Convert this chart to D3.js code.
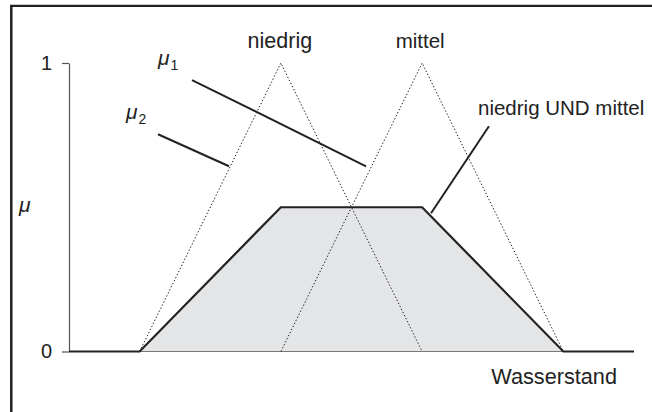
<!DOCTYPE html>
<html>
<head>
<meta charset="utf-8">
<script src="https://cdn.jsdelivr.net/npm/d3@7"></script>
<style>
  body { margin: 0; background: #fff; }
  svg { display: block; }
  text { font-family: "Liberation Sans", Arial, Helvetica, sans-serif; fill: #222; }
</style>
</head>
<body>
<div id="chart"></div>
<script>
// membership functions (x = Wasserstand, y = mu)
var xDomain = [0.5, 4.5];
var yTicks = [0, 1];
var niedrig = [[1, 0], [2, 1], [3, 0]];
var mittel = [[2, 0], [3, 1], [4, 0]];
var niedrigUndMittel = [[0.5, 0], [1, 0], [2, 0.5], [3, 0.5], [4, 0], [4.5, 0]];

// pointer lines for the labels (data units)
var pointerMu1 = [[1.371, 0.941], [2.603, 0.642]];
var pointerMu2 = [[1.130, 0.753], [1.633, 0.642]];
var pointerUnd = [[3.473, 0.781], [3.063, 0.479]];

var width = 652, height = 412;
var dark = "#222";

var svg = d3.select("#chart").append("svg")
    .attr("width", width)
    .attr("height", height);

// frame (cut off at right and bottom)
svg.append("line").attr("x1", 10).attr("x2", width).attr("y1", 5.8).attr("y2", 5.8)
    .attr("stroke", dark).attr("stroke-width", 2.2);
svg.append("line").attr("x1", 11.3).attr("x2", 11.3).attr("y1", 5).attr("y2", height)
    .attr("stroke", dark).attr("stroke-width", 2.5);

var x = d3.scaleLinear().domain(xDomain).range([69, 634]);
var y = d3.scaleLinear().domain([0, 1]).range([351.5, 63]);

var line = d3.line().x(function(d){ return x(d[0]); }).y(function(d){ return y(d[1]); });

// filled area of the AND
svg.append("path")
    .datum(niedrigUndMittel)
    .attr("d", d3.area().x(function(d){ return x(d[0]); }).y0(y(0)).y1(function(d){ return y(d[1]); }))
    .attr("fill", "#e4e5e7");

// y axis
var yAxis = svg.append("g")
    .attr("transform", "translate(" + x(xDomain[0]) + ",0)")
    .call(d3.axisLeft(y).tickValues(yTicks).tickSize(7).tickSizeOuter(0).tickPadding(10)
        .tickFormat(d3.format("d")));
yAxis.select(".domain").attr("stroke", "#555").attr("stroke-width", 1.2);
yAxis.selectAll(".tick line").attr("stroke", "#555").attr("stroke-width", 1.2);
yAxis.selectAll(".tick text").attr("font-size", "20px").attr("fill", dark)
    .attr("font-family", "'Liberation Sans', Arial, sans-serif");

// baseline under the area
svg.append("line")
    .attr("x1", x(xDomain[0])).attr("x2", x(xDomain[1]))
    .attr("y1", y(0)).attr("y2", y(0))
    .attr("stroke", "#777").attr("stroke-width", 1.2);

// dotted triangles
[niedrig, mittel].forEach(function(tri){
    svg.append("path")
        .datum(tri)
        .attr("d", line)
        .attr("fill", "none")
        .attr("stroke", "#222")
        .attr("stroke-width", 1)
        .attr("stroke-dasharray", "1.4,2");
});

// AND outline
svg.append("path")
    .datum(niedrigUndMittel)
    .attr("d", line)
    .attr("fill", "none")
    .attr("stroke", dark)
    .attr("stroke-width", 2.2)
    .attr("stroke-linejoin", "miter");

// pointer lines
[pointerMu1, pointerMu2, pointerUnd].forEach(function(p){
    svg.append("path")
        .datum(p)
        .attr("d", line)
        .attr("fill", "none")
        .attr("stroke", dark)
        .attr("stroke-width", 2);
});

// labels
var labels = [
    {x: x(2) - 1, y: y(1) - 15, text: "niedrig", anchor: "middle", size: 21.5},
    {x: x(3) - 2, y: y(1) - 15, text: "mittel", anchor: "middle", size: 20.5},
    {x: 478, y: 115, text: "niedrig UND mittel", anchor: "start", size: 20.5},
    {x: 617, y: y(0) + 32, text: "Wasserstand", anchor: "end", size: 21.7}
];
svg.selectAll(".lbl")
    .data(labels)
    .enter()
    .append("text")
    .attr("class", "lbl")
    .attr("x", function(d){ return d.x; })
    .attr("y", function(d){ return d.y; })
    .attr("text-anchor", function(d){ return d.anchor; })
    .attr("font-size", function(d){ return d.size + "px"; })
    .text(function(d){ return d.text; });

// mu symbols
var muLabels = [
    {x: 158, y: 65, sub: "1"},
    {x: 126, y: 119, sub: "2"},
    {x: 19, y: 212, sub: ""}
];
var mu = svg.selectAll(".mu")
    .data(muLabels)
    .enter()
    .append("text")
    .attr("class", "mu")
    .attr("x", function(d){ return d.x; })
    .attr("y", function(d){ return d.y; })
    .attr("font-size", "21px");
mu.append("tspan").attr("font-style", "italic").text("\u03bc");
mu.append("tspan").attr("font-size", "14px").attr("dy", 5).attr("dx", 1)
    .text(function(d){ return d.sub; });
</script>
</body>
</html>
